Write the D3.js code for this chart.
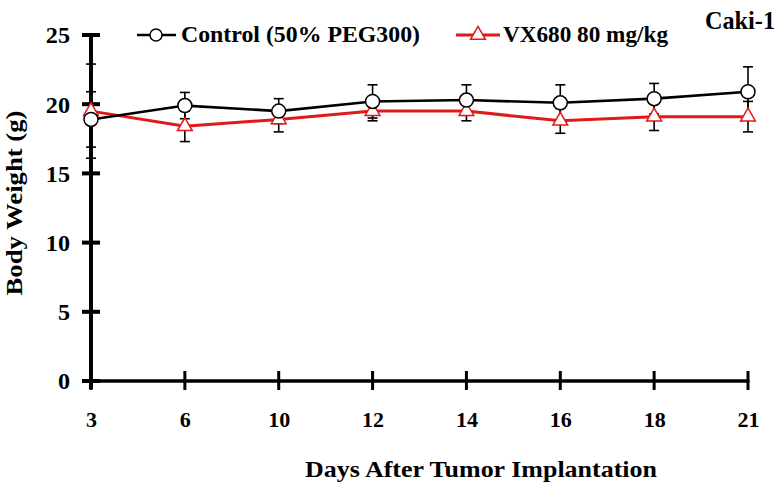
<!DOCTYPE html>
<html><head><meta charset="utf-8">
<script src="https://cdn.jsdelivr.net/npm/d3@7"></script>
<style>body{margin:0;background:#fff}svg{display:block}</style>
</head><body>
<svg id="c" width="780" height="492"></svg>
<script>
const days = ["3","6","10","12","14","16","18","21"];
const controlMean = [18.9, 19.9, 19.5, 20.2, 20.3, 20.1, 20.4, 20.9];
const controlErr  = [2.0, 0.95, 0.9, 1.2, 1.1, 1.3, 1.1, 1.8];
const vxMean = [19.5, 18.4, 18.9, 19.5, 19.5, 18.8, 19.1, 19.1];
const vxErr  = [3.4, 1.1, 0.9, 0.7, 0.7, 0.9, 1.0, 1.1];
const yTicks = [0, 5, 10, 15, 20, 25];
const seriesNames = ["Control (50% PEG300)", "VX680 80 mg/kg"];

const svg = d3.select("#c");
const font = "'Liberation Serif','Times New Roman',serif";
const x = d3.scalePoint().domain(days).range([91, 748]);
const y = d3.scaleLinear().domain([0, 25]).range([381, 35]);

// axes
const yAx = svg.append("g").attr("transform","translate(91,0)")
  .call(d3.axisLeft(y).tickValues(yTicks).tickSize(0).tickPadding(21).tickFormat(d3.format("d")));
yAx.select(".domain").remove();
yAx.selectAll("text").attr("font-family",font).attr("font-weight","bold").attr("font-size",23).attr("fill","#000")
  .attr("transform","scale(1.05,1)").attr("x",-21/1.05).attr("dy","0.34em");

const xAx = svg.append("g").attr("transform","translate(0,381)")
  .call(d3.axisBottom(x).tickSize(0).tickPadding(30));
xAx.select(".domain").remove();
xAx.selectAll("text").attr("font-family",font).attr("font-weight","bold").attr("font-size",22).attr("fill","#000");

// axis lines
svg.append("line").attr("x1",82).attr("x2",x("21")+1.5).attr("y1",y(0)).attr("y2",y(0)).attr("stroke","#000").attr("stroke-width",3.3);
svg.append("line").attr("x1",91).attr("x2",91).attr("y1",y(25)).attr("y2",y(0)+8).attr("stroke","#000").attr("stroke-width",4);
svg.append("g").selectAll("line").data(yTicks).join("line")
  .attr("x1",82).attr("x2",100).attr("y1",d=>y(d)).attr("y2",d=>y(d)).attr("stroke","#000").attr("stroke-width",4);
svg.append("g").selectAll("line").data(days).join("line")
  .attr("x1",d=>x(d)).attr("x2",d=>x(d)).attr("y1",y(0)-10).attr("y2",y(0)+9).attr("stroke","#000").attr("stroke-width",3);

// error bars
function errBars(mean, err){
  const g = svg.append("g").attr("stroke","#000").attr("stroke-width",1.6);
  days.forEach((d,i)=>{
    const cx = x(d), hi = y(mean[i]+err[i]), lo = y(mean[i]-err[i]);
    g.append("line").attr("x1",cx).attr("x2",cx).attr("y1",hi).attr("y2",lo);
    g.append("line").attr("x1",cx-5).attr("x2",cx+5).attr("y1",hi).attr("y2",hi);
    g.append("line").attr("x1",cx-5).attr("x2",cx+5).attr("y1",lo).attr("y2",lo);
  });
}
errBars(controlMean, controlErr);
errBars(vxMean, vxErr);

const line = d3.line().x((d,i)=>x(days[i])).y(d=>y(d));
svg.append("path").datum(vxMean).attr("d",line).attr("fill","none").attr("stroke","#e0191b").attr("stroke-width",3);
svg.append("path").datum(controlMean).attr("d",line).attr("fill","none").attr("stroke","#000").attr("stroke-width",2.6);

const tri = d3.symbol().type(d3.symbolTriangle).size(95);
svg.append("g").selectAll("path").data(vxMean).join("path")
  .attr("d",tri).attr("transform",(d,i)=>`translate(${x(days[i])},${y(d)})`)
  .attr("fill","#fff").attr("stroke","#e0191b").attr("stroke-width",1.5);
svg.append("g").selectAll("circle").data(controlMean).join("circle")
  .attr("cx",(d,i)=>x(days[i])).attr("cy",d=>y(d)).attr("r",7)
  .attr("fill","#fff").attr("stroke","#000").attr("stroke-width",1.5);

// legend
const lg = svg.append("g");
lg.append("line").attr("x1",137).attr("x2",176).attr("y1",35).attr("y2",35).attr("stroke","#000").attr("stroke-width",2.6);
lg.append("circle").attr("cx",156).attr("cy",35).attr("r",6).attr("fill","#fff").attr("stroke","#000").attr("stroke-width",1.5);
lg.append("text").attr("x",181).attr("y",42).attr("textLength",239).attr("lengthAdjust","spacingAndGlyphs").text(seriesNames[0]);
lg.append("line").attr("x1",456).attr("x2",500).attr("y1",35).attr("y2",35).attr("stroke","#e0191b").attr("stroke-width",3);
lg.append("path").attr("d",tri).attr("transform","translate(478,35)").attr("fill","#fff").attr("stroke","#e0191b").attr("stroke-width",1.5);
lg.append("text").attr("x",503).attr("y",42).attr("textLength",165).attr("lengthAdjust","spacingAndGlyphs").text(seriesNames[1]);
lg.selectAll("text").attr("font-family",font).attr("font-weight","bold").attr("font-size",23).attr("fill","#000");

svg.append("text").attr("x",705).attr("y",29).attr("textLength",70).attr("lengthAdjust","spacingAndGlyphs")
  .attr("font-family",font).attr("font-weight","bold").attr("font-size",25).text("Caki-1");

svg.append("text").attr("transform","translate(22,203) rotate(-90)").attr("text-anchor","middle")
  .attr("textLength",185).attr("lengthAdjust","spacingAndGlyphs")
  .attr("font-family",font).attr("font-weight","bold").attr("font-size",23).text("Body Weight (g)");
svg.append("text").attr("x",481).attr("y",477).attr("text-anchor","middle")
  .attr("textLength",352).attr("lengthAdjust","spacingAndGlyphs")
  .attr("font-family",font).attr("font-weight","bold").attr("font-size",24).text("Days After Tumor Implantation");
</script>
</body></html>
